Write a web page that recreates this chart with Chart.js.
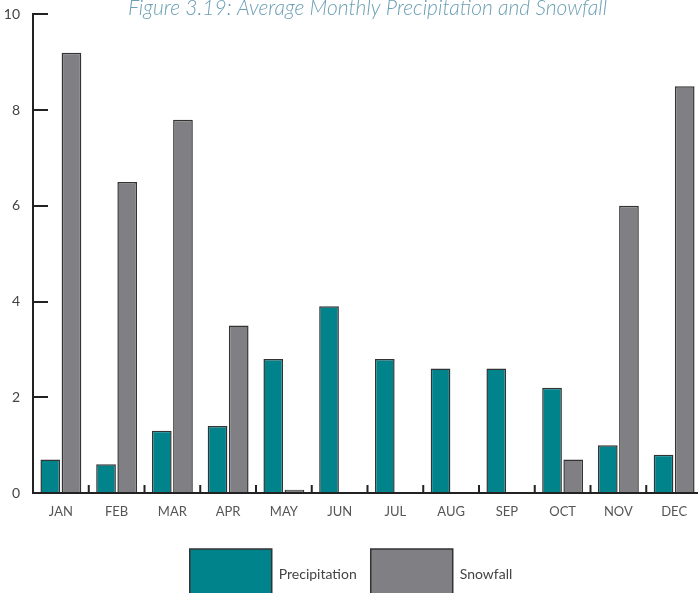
<!DOCTYPE html>
<html>
<head>
<meta charset="utf-8">
<script src="https://cdn.jsdelivr.net/npm/chart.js@4.4.1/dist/chart.umd.min.js"></script>
<style>
  html, body { margin: 0; padding: 0; overflow: hidden; background: #fff; }
  #wrap { position: absolute; left: 0; top: -22px; width: 702px; height: 631px; }
</style>
</head>
<body>
<div id="wrap"><canvas id="precipChart"></canvas></div>
<script>
const months = ['JAN', 'FEB', 'MAR', 'APR', 'MAY', 'JUN', 'JUL', 'AUG', 'SEP', 'OCT', 'NOV', 'DEC'];
const precipitation = [0.7, 0.6, 1.3, 1.4, 2.8, 3.9, 2.8, 2.6, 2.6, 2.2, 1.0, 0.8];
const snowfall = [9.2, 6.5, 7.8, 3.5, 0.07, 0, 0, 0, 0, 0.7, 6.0, 8.5];
const yTicks = [0, 2, 4, 6, 8, 10];

const ctx = document.getElementById('precipChart').getContext('2d');

// 카테고리 사이 눈금을 축 안쪽(위)으로 그림
const innerXTicks = {
    id: 'innerXTicks',
    afterDraw(chart) {
        const x = chart.scales.x;
        const c = chart.ctx;
        const base = chart.chartArea.bottom;
        c.save();
        c.strokeStyle = '#222222';
        c.lineWidth = 2;
        c.beginPath();
        for (let i = 1; i <= months.length; i++) {
            const px = i < months.length
                ? (x.getPixelForValue(i - 1) + x.getPixelForValue(i)) / 2
                : x.right;
            c.moveTo(px, base);
            c.lineTo(px, base - 8);
        }
        c.stroke();
        c.restore();
    }
};

const barCommon = {
    borderColor: '#333333',
    borderWidth: 1.5,
    borderSkipped: 'start',
    barPercentage: 0.93,
    categoryPercentage: 0.76
};

new Chart(ctx, {
    type: 'bar',
    data: {
        labels: months,
        datasets: [
            { label: 'Precipitation', data: precipitation, backgroundColor: '#00838b', ...barCommon },
            { label: 'Snowfall', data: snowfall, backgroundColor: '#808084', ...barCommon }
        ]
    },
    options: {
        responsive: true,
        maintainAspectRatio: false,
        animation: false,
        layout: { padding: 0 },
        scales: {
            x: {
                grid: { drawOnChartArea: false, drawTicks: false },
                border: { display: true, color: '#222222', width: 2 },
                ticks: {
                    padding: 11,
                    color: '#555555',
                    font: { family: 'Lato', size: 13 }
                },
                afterFit: (scale) => { scale.height = 42; }
            },
            y: {
                min: 0,
                max: 10,
                afterBuildTicks: (scale) => { scale.ticks = yTicks.map(v => ({ value: v })); },
                grid: {
                    drawOnChartArea: false,
                    tickLength: -15,
                    color: '#222222',
                    lineWidth: 2
                },
                border: { display: true, color: '#222222', width: 2 },
                ticks: {
                    padding: 28,
                    color: '#444444',
                    font: { family: 'Lato', size: 14 }
                },
                afterFit: (scale) => { scale.width = 33; }
            }
        },
        plugins: {
            title: {
                display: true,
                text: 'Figure 3.19: Average Monthly Precipitation and Snowfall',
                fullSize: false,
                color: '#6b9fb4',
                padding: { top: 0, bottom: -4 },
                font: { family: 'Lato', size: 21, style: 'italic', weight: 300, lineHeight: 1 }
            },
            legend: {
                display: true,
                position: 'bottom',
                labels: {
                    boxWidth: 82,
                    boxHeight: 50,
                    padding: 14,
                    color: '#444444',
                    font: { family: 'Lato', size: 14 }
                }
            },
            tooltip: { enabled: false }
        }
    },
    plugins: [innerXTicks]
});
</script>
</body>
</html>
